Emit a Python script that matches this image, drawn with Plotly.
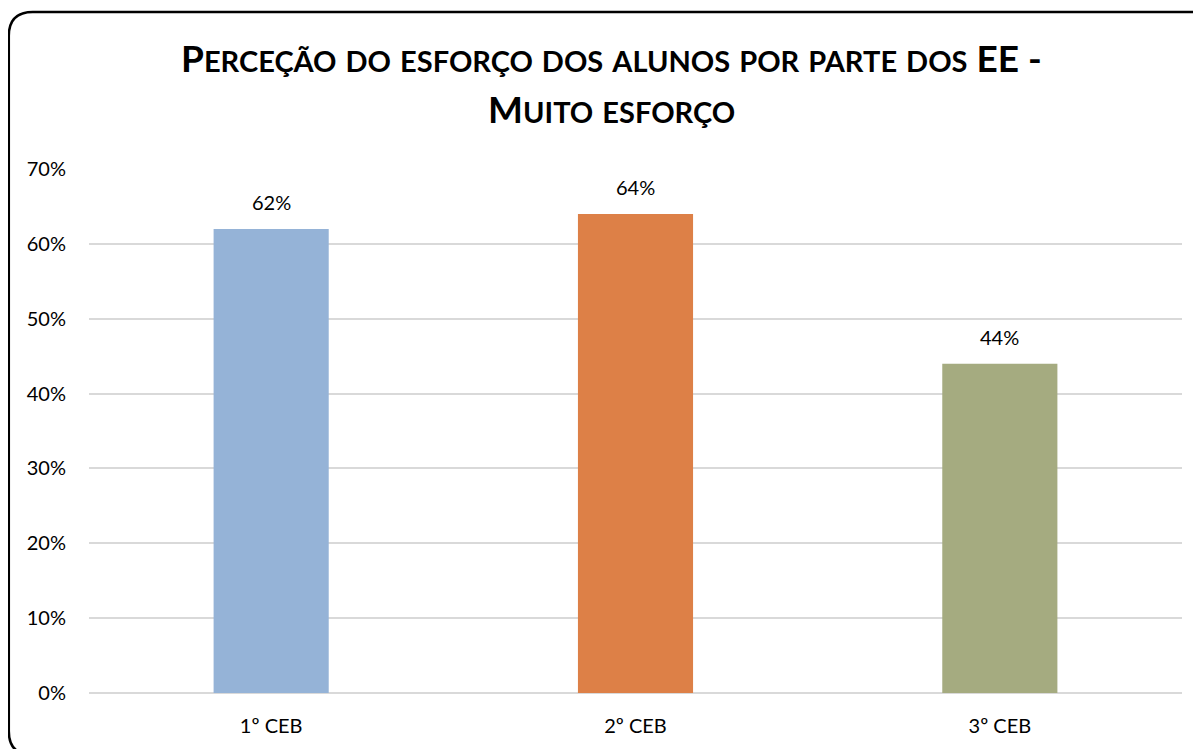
import plotly.graph_objects as go

categories = ["1º CEB", "2º CEB", "3º CEB"]
values = [0.62, 0.64, 0.44]
colors = ["#95B3D7", "#DD8047", "#A5AB80"]
title_text = "Perceção do esforço dos alunos por parte dos EE - Muito esforço"
title_break_after = "EE -"

# The page body has an 8px margin; work in page pixels and convert.
OFF = 8
W, H = 1201 - OFF, 749 - OFF
L, R, T, B = 89 - OFF, 1182 - OFF, 169 - OFF, 693 - OFF  # plot area (figure px)

def small_caps(text, big=37, small=29):
    out = []
    for ch in text:
        if ch.islower():
            out.append(f"<span style='font-size:{small}px'>{ch.upper()}</span>")
        elif ch == " ":
            out.append(" ")
        else:
            out.append(f"<span style='font-size:{big}px'>{ch}</span>")
    return "".join(out)

i = title_text.index(title_break_after) + len(title_break_after)
line1, line2 = title_text[:i], title_text[i:].strip()

fig = go.Figure()
fig.add_trace(go.Bar(
    x=categories, y=values, marker=dict(color=colors, line=dict(width=0)),
    width=0.316, hoverinfo="skip",
))

for c, v in zip(categories, values):
    fig.add_annotation(x=c, y=v, text=f"{round(v*100)}%", showarrow=False,
                       yanchor="bottom", yshift=13,
                       font=dict(family="Lato", size=20, color="#000000"))

def px(x):  # page px -> paper
    return (x - OFF - L) / (R - L)

def py(y):
    return (B - (y - OFF)) / (B - T)

# rounded border: left, top and bottom edges (right edge lies off-page)
x0, y0, xe, y1, r = 8.8, 12, 1260, 755, 24
border = dict(color="#000000", width=2.5)
fig.add_shape(type="path", xref="paper", yref="paper", line=border,
              path=(f"M {px(xe)},{py(y0)} L {px(x0+r)},{py(y0)} "
                    f"Q {px(x0)},{py(y0)} {px(x0)},{py(y0+r)} "
                    f"L {px(x0)},{py(y1-r)} Q {px(x0)},{py(y1)} {px(x0+r)},{py(y1)} "
                    f"L {px(xe)},{py(y1)}"))

for txt, yc in [(line1, 58), (line2, 108)]:
    fig.add_annotation(x=px(611), y=py(yc), xref="paper", yref="paper",
                       text="<b>" + small_caps(txt) + "</b>", showarrow=False,
                       xanchor="center", yanchor="middle",
                       font=dict(family="Lato", size=37, color="#000000"))

fig.update_layout(
    width=W, height=H,
    margin=dict(l=L, r=W - R, t=T, b=H - B, pad=0),
    paper_bgcolor="white", plot_bgcolor="white",
    showlegend=False,
    font=dict(family="Lato", size=20, color="#000000"),
    xaxis=dict(showgrid=False, showline=False, ticks="", ticklabelstandoff=19,
               tickfont=dict(size=20), fixedrange=True),
    yaxis=dict(range=[0, 0.7], dtick=0.1, tickformat=".0%", showgrid=True,
               gridcolor="#D9D9D9", gridwidth=1.5, zeroline=True, zerolinecolor="#D9D9D9",
               zerolinewidth=1.5, showline=False, ticks="", ticklabelstandoff=22,
               tickfont=dict(size=20), fixedrange=True),
)

fig.write_html("out.html")
